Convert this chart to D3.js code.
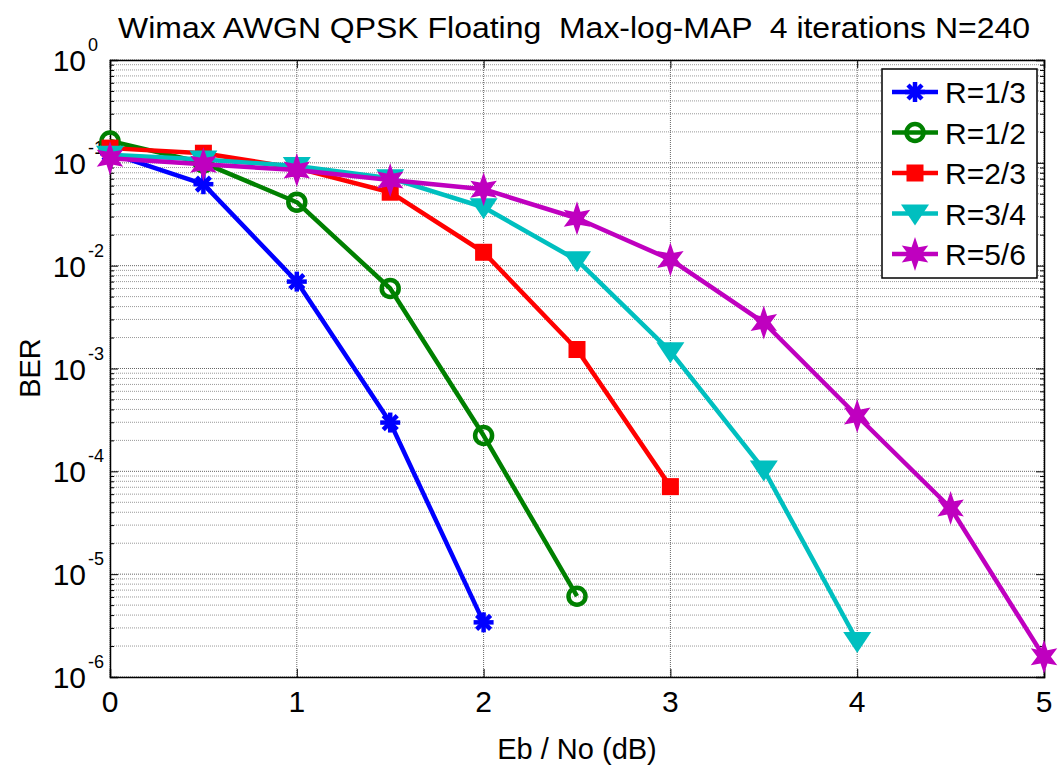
<!DOCTYPE html>
<html><head><meta charset="utf-8">
<script src="https://cdn.jsdelivr.net/npm/d3@7"></script>
<style>body{margin:0;background:#fff}svg{display:block}text{font-family:"Liberation Sans",Arial,sans-serif;white-space:pre}</style>
</head><body><svg id="c" width="1062" height="765"></svg>
<script>
const ebno = [0, 0.5, 1, 1.5, 2, 2.5, 3, 3.5, 4, 4.5, 5];
const seriesNames = ["R=1/3", "R=1/2", "R=2/3", "R=3/4", "R=5/6"];
const ber13 = [0.124, 0.062, 0.0070, 2.98e-4, 3.4e-6];
const ber12 = [0.163, 0.10, 0.0414, 0.0060, 2.23e-4, 6.1e-6];
const ber23 = [0.139, 0.124, 0.0887, 0.0518, 0.0135, 0.00153, 7.1e-5];
const ber34 = [0.120, 0.108, 0.093, 0.071, 0.037, 0.0113, 0.00147, 1.04e-4, 2.24e-6];
const ber56 = [0.111, 0.097, 0.085, 0.068, 0.0554, 0.0289, 0.0115, 0.0028, 3.45e-4, 4.4e-5, 1.57e-6];
const xTicks = [0, 1, 2, 3, 4, 5];
const yExps = [0, -1, -2, -3, -4, -5, -6];
const titleText = "Wimax AWGN QPSK Floating  Max-log-MAP  4 iterations N=240";
const xLabel = "Eb / No (dB)";
const yLabel = "BER";

const colors = ["#0000ff", "#008000", "#ff0000", "#00bfbf", "#bf00bf"];
const markers = ["asterisk", "circle", "square", "tridown", "hexagram"];
const allBer = [ber13, ber12, ber23, ber34, ber56];

const svg = d3.select("#c");
const L = 110, T = 60, R = 1044, B = 677;
const x = d3.scaleLinear().domain([0, 5]).range([L, R]);
const y = d3.scaleLog().domain([1e-6, 1]).range([B, T]);

// grid
const g = svg.append("g");
const minor = [];
for (let e = -6; e < 0; e++) for (let k = 2; k <= 9; k++) minor.push(k * Math.pow(10, e));
g.selectAll("line.minor").data(minor).enter().append("line")
  .attr("x1", L).attr("x2", R).attr("y1", d => y(d)).attr("y2", d => y(d))
  .attr("stroke", "#999").attr("stroke-width", 1).attr("stroke-dasharray", "1,1");
g.selectAll("line.major").data(yExps).enter().append("line")
  .attr("x1", L).attr("x2", R).attr("y1", d => y(Math.pow(10, d))).attr("y2", d => y(Math.pow(10, d)))
  .attr("stroke", "#666").attr("stroke-width", 1).attr("stroke-dasharray", "1,1");
g.selectAll("line.vx").data(xTicks).enter().append("line")
  .attr("x1", d => x(d)).attr("x2", d => x(d)).attr("y1", T).attr("y2", B)
  .attr("stroke", "#666").attr("stroke-width", 1).attr("stroke-dasharray", "1,1");

// axes (ticks in, both sides)
const axB = d3.axisBottom(x).tickValues(xTicks).tickSize(-8).tickFormat("");
const axT = d3.axisTop(x).tickValues(xTicks).tickSize(-8).tickFormat("");
const yTickVals = yExps.map(e => Math.pow(10, e)).concat(minor);
const axL = d3.axisLeft(y).tickValues(yTickVals).tickSize(-8).tickFormat("");
const axR = d3.axisRight(y).tickValues(yTickVals).tickSize(-8).tickFormat("");
[[axB, `translate(0,${B})`], [axT, `translate(0,${T})`], [axL, `translate(${L},0)`], [axR, `translate(${R},0)`]].forEach(([a, t]) => {
  const gg = svg.append("g").attr("transform", t).call(a);
  gg.select(".domain").attr("stroke", "#000").attr("stroke-width", 1.5);
  gg.selectAll(".tick line").attr("stroke", "#000");
});
svg.selectAll("g .tick").filter(function(d){ return minor.includes(d); }).select("line").attr("x2", function(){ const v = +d3.select(this).attr("x2"); return v ? v * 0.5 : v; });

// tick labels
svg.selectAll("text.xt").data(xTicks).enter().append("text")
  .attr("x", d => x(d)).attr("y", B + 35).attr("text-anchor", "middle")
  .attr("font-size", 30).text(d => d);
const yl = svg.selectAll("g.yt").data(yExps).enter().append("g");
yl.append("text").attr("x", 86).attr("y", d => y(Math.pow(10, d)) + 11)
  .attr("text-anchor", "end").attr("font-size", 30).text("10");
yl.append("text").attr("x", 88).attr("y", d => y(Math.pow(10, d)) - 9)
  .attr("text-anchor", "start").attr("font-size", 18).text(d => d);

// title and labels
svg.append("text").attr("x", 118).attr("y", 38).attr("text-anchor", "start")
  .attr("font-size", 29).attr("textLength", 912).attr("lengthAdjust", "spacingAndGlyphs").text(titleText);
svg.append("text").attr("x", 577).attr("y", 759).attr("text-anchor", "middle")
  .attr("font-size", 29).text(xLabel);
svg.append("text").attr("transform", "translate(40,368) rotate(-90)").attr("text-anchor", "middle")
  .attr("font-size", 29).text(yLabel);

// markers
function hexPath(r) {
  const pts = [];
  for (let i = 0; i < 12; i++) {
    const a = -Math.PI / 2 + i * Math.PI / 6;
    const rr = i % 2 === 0 ? r : r * 0.45;
    pts.push([rr * Math.cos(a) * 0.9, rr * Math.sin(a)]);
  }
  return "M" + pts.map(p => p.join(",")).join("L") + "Z";
}
function drawMarker(sel, type, col) {
  if (type === "asterisk") {
    const r = 10;
    [[0, -r, 0, r], [-r, 0, r, 0], [-r * .7, -r * .7, r * .7, r * .7], [-r * .7, r * .7, r * .7, -r * .7]].forEach(l => {
      sel.append("line").attr("x1", l[0]).attr("y1", l[1]).attr("x2", l[2]).attr("y2", l[3])
        .attr("stroke", col).attr("stroke-width", 4.5);
    });
  } else if (type === "circle") {
    sel.append("circle").attr("r", 8.5).attr("fill", "none").attr("stroke", col).attr("stroke-width", 4.5);
  } else if (type === "square") {
    sel.append("rect").attr("x", -8.5).attr("y", -8.5).attr("width", 17).attr("height", 17).attr("fill", col);
  } else if (type === "tridown") {
    sel.append("path").attr("d", "M-14,-9L14,-9L0,12Z").attr("fill", col);
  } else if (type === "hexagram") {
    sel.append("path").attr("d", hexPath(17)).attr("fill", col);
  }
}

const line = d3.line().x((d, i) => x(ebno[i])).y(d => y(d));
allBer.forEach((arr, si) => {
  const sg = svg.append("g");
  sg.append("path").attr("d", line(arr)).attr("fill", "none")
    .attr("stroke", colors[si]).attr("stroke-width", 4.5).attr("stroke-linejoin", "round");
  arr.forEach((v, i) => {
    const m = sg.append("g").attr("transform", `translate(${x(ebno[i])},${y(v)})`);
    drawMarker(m, markers[si], colors[si]);
  });
});

// legend
const lg = svg.append("g");
lg.append("rect").attr("x", 882).attr("y", 69).attr("width", 155).attr("height", 209)
  .attr("fill", "#fff").attr("stroke", "#000").attr("stroke-width", 1.5);
seriesNames.forEach((n, i) => {
  const cy = 92 + i * 40.5;
  lg.append("line").attr("x1", 892).attr("x2", 938).attr("y1", cy).attr("y2", cy)
    .attr("stroke", colors[i]).attr("stroke-width", 4.5);
  const m = lg.append("g").attr("transform", `translate(915,${cy})`);
  drawMarker(m, markers[i], colors[i]);
  lg.append("text").attr("x", 945).attr("y", cy + 11).attr("font-size", 30).text(n);
});
</script></body></html>
